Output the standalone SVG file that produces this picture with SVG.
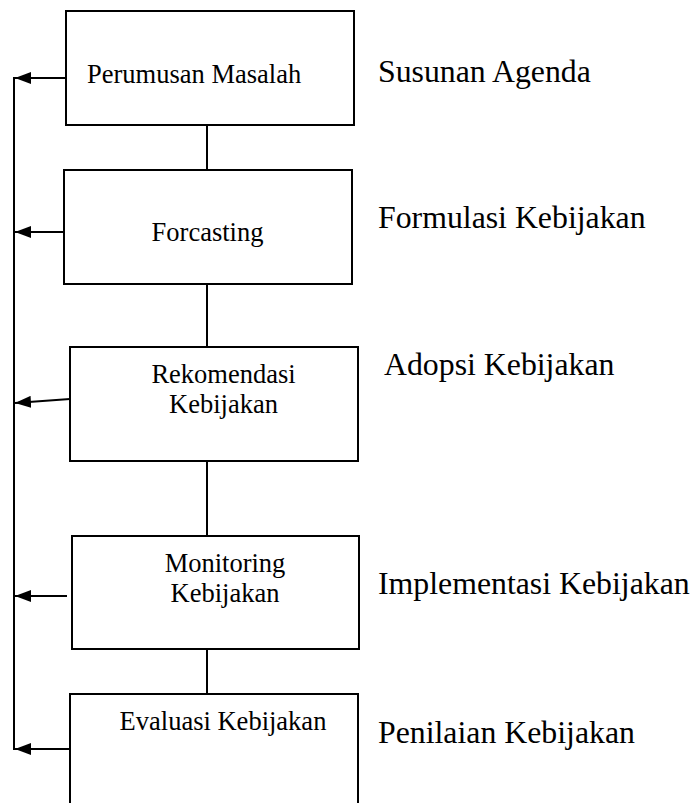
<svg xmlns="http://www.w3.org/2000/svg" width="696" height="803" viewBox="0 0 696 803">
<style>
.box{fill:#fff;stroke:#000;stroke-width:2}
.ln{stroke:#000;stroke-width:2;fill:none}
.in{font-family:"Liberation Serif","Times New Roman",serif;font-size:26.5px;fill:#000}
.lbl{font-family:"Liberation Serif","Times New Roman",serif;font-size:31.8px;fill:#000}
</style>
<defs>
<marker id="ah" markerWidth="16" markerHeight="12" refX="16" refY="6" orient="auto" markerUnits="userSpaceOnUse">
<path d="M0,0 L16,6 L0,12 Z" fill="#000"/>
</marker>
</defs>
<rect width="696" height="803" fill="#fff"/>
<g id="connectors">
<line class="ln" x1="14" y1="77" x2="14" y2="750"/>
<line class="ln" x1="207" y1="125" x2="207" y2="170"/>
<line class="ln" x1="207" y1="284" x2="207" y2="347"/>
<line class="ln" x1="207" y1="461" x2="207" y2="536"/>
<line class="ln" x1="207" y1="649" x2="207" y2="694"/>
<line class="ln" x1="66" y1="78" x2="15" y2="78" marker-end="url(#ah)"/>
<line class="ln" x1="64" y1="232" x2="15" y2="232" marker-end="url(#ah)"/>
<line class="ln" x1="70" y1="399" x2="15" y2="403" marker-end="url(#ah)"/>
<line class="ln" x1="67" y1="596" x2="15" y2="596" marker-end="url(#ah)"/>
<line class="ln" x1="70" y1="749" x2="15" y2="749" marker-end="url(#ah)"/>
</g>
<g id="perumusan">
<rect class="box" x="66" y="11" width="288" height="114"/>
<text class="in" x="87" y="83">Perumusan Masalah</text>
</g>
<g id="forcasting">
<rect class="box" x="64" y="170" width="288" height="114"/>
<text class="in" x="207.5" y="241" text-anchor="middle">Forcasting</text>
</g>
<g id="rekomendasi">
<rect class="box" x="70" y="347" width="288" height="114"/>
<text class="in" x="223.5" y="383" text-anchor="middle">Rekomendasi</text>
<text class="in" x="223.5" y="413" text-anchor="middle">Kebijakan</text>
</g>
<g id="monitoring">
<rect class="box" x="72" y="536" width="287" height="113"/>
<text class="in" x="225" y="572" text-anchor="middle">Monitoring</text>
<text class="in" x="225" y="602" text-anchor="middle">Kebijakan</text>
</g>
<g id="evaluasi">
<rect class="box" x="70" y="694" width="288" height="120"/>
<text class="in" x="223" y="730" text-anchor="middle">Evaluasi Kebijakan</text>
</g>
<g id="labels">
<text class="lbl" x="378" y="82">Susunan Agenda</text>
<text class="lbl" x="378" y="228">Formulasi Kebijakan</text>
<text class="lbl" x="384" y="375">Adopsi Kebijakan</text>
<text class="lbl" x="378" y="594">Implementasi Kebijakan</text>
<text class="lbl" x="378" y="743">Penilaian Kebijakan</text>
</g>
</svg>
